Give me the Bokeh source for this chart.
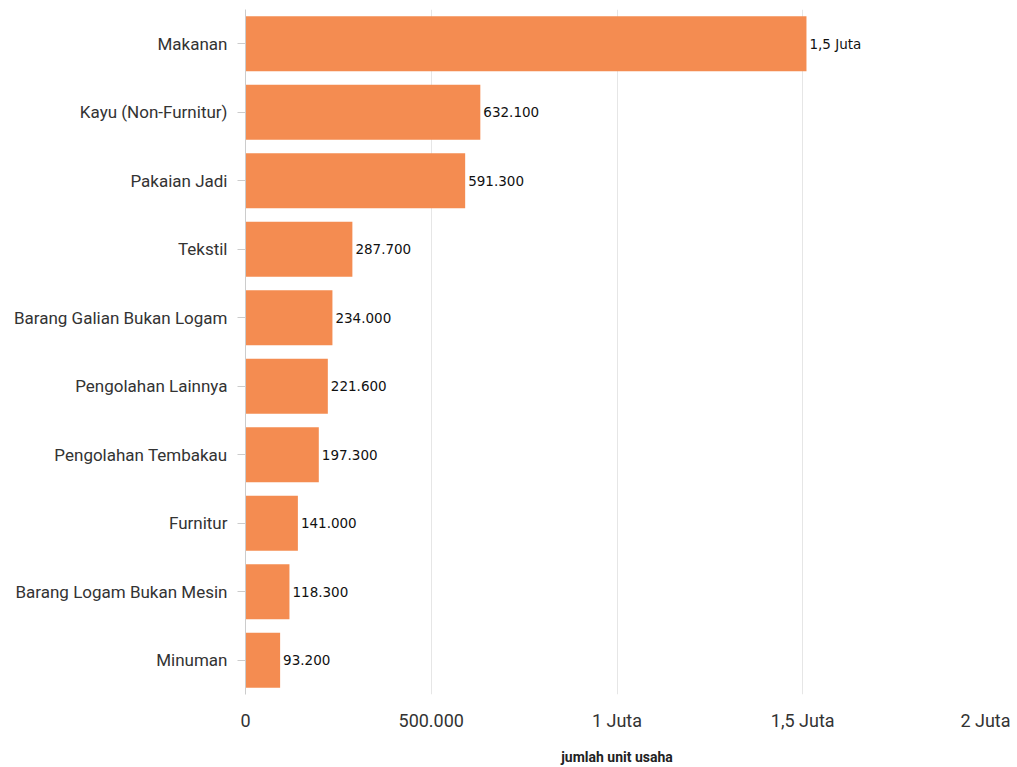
from bokeh.plotting import figure
from bokeh.models import ColumnDataSource, FixedTicker, Range1d
from bokeh.core.properties import value
from bokeh.embed import file_html
from bokeh.resources import INLINE

categories = ["Makanan", "Kayu (Non-Furnitur)", "Pakaian Jadi", "Tekstil",
              "Barang Galian Bukan Logam", "Pengolahan Lainnya", "Pengolahan Tembakau",
              "Furnitur", "Barang Logam Bukan Mesin", "Minuman"]
values = [1510000, 632100, 591300, 287700, 234000, 221600, 197300, 141000, 118300, 93200]
x_ticks = [0, 500000, 1000000, 1500000, 2000000]
x_tick_labels = ["0", "500.000", "1 Juta", "1,5 Juta", "2 Juta"]


def fmt(v):
    if v >= 1000000:
        s = f"{v/1000000:.1f}".replace(".", ",")
        if s.endswith(",0"):
            s = s[:-2]
        return s + " Juta"
    return f"{v:,}".replace(",", ".")


labels = [fmt(v) for v in values]
src = ColumnDataSource(dict(cat=categories, val=values, lab=labels))

p = figure(y_range=list(reversed(categories)), x_range=Range1d(0, 2000000),
           width=1010, height=767, output_backend="svg", toolbar_location=None,
           min_border_left=245, min_border_right=22, min_border_top=9, min_border_bottom=60)
p.outline_line_color = None
p.background_fill_color = "white"

p.hbar(y="cat", right="val", left=0, height=0.8, source=src,
       fill_color="#F48C51", line_color=None)
p.text(x="val", y="cat", text="lab", source=src, x_offset=3,
       text_baseline="middle", text_align="left",
       text_font=value("DejaVu Sans"), text_font_size="13.5px", text_color="#111111")

p.xaxis.ticker = FixedTicker(ticks=x_ticks)
p.xaxis.major_label_overrides = {t: l for t, l in zip(x_ticks, x_tick_labels)}
p.xaxis.axis_line_color = None
p.xaxis.major_tick_line_color = None
p.xaxis.minor_tick_line_color = None
p.xaxis.major_label_text_font = "Roboto"
p.xaxis.major_label_text_font_size = "18px"
p.xaxis.major_label_text_color = "#333333"
p.xaxis.major_label_standoff = 9
p.xaxis.axis_label = "jumlah unit usaha"
p.xaxis.axis_label_text_font = "Roboto"
p.xaxis.axis_label_text_font_size = "14px"
p.xaxis.axis_label_text_font_style = "bold"
p.xaxis.axis_label_text_color = "#222222"
p.xaxis.axis_label_standoff = 15

p.yaxis.axis_line_color = "#cccccc"
p.yaxis.major_tick_line_color = "#cccccc"
p.yaxis.major_tick_out = 8
p.yaxis.major_tick_in = 0
p.yaxis.major_label_text_font = "Roboto"
p.yaxis.major_label_text_font_size = "17px"
p.yaxis.major_label_text_color = "#333333"
p.yaxis.major_label_standoff = 10

p.xgrid.grid_line_color = "#e6e6e6"
p.ygrid.grid_line_color = None

open("out.html", "w").write(file_html(p, INLINE))
